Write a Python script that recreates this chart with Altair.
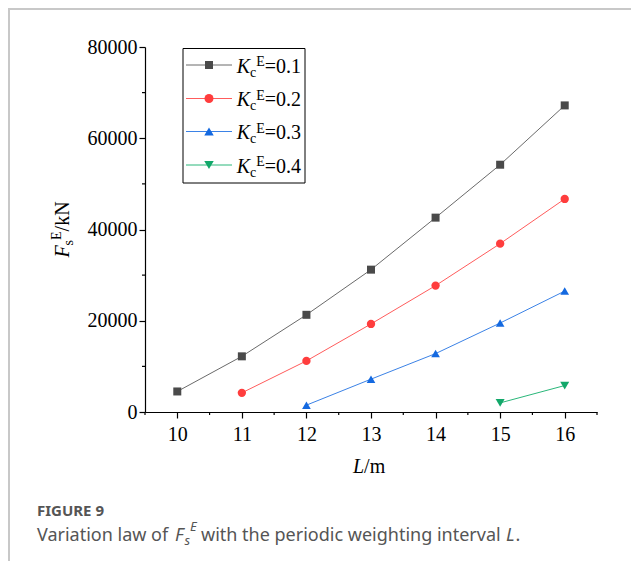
import altair as alt
import pandas as pd

# ---- data ----
series = ["0.1", "0.2", "0.3", "0.4"]
L_01 = [10, 11, 12, 13, 14, 15, 16]
F_01 = [4500, 12200, 21300, 31200, 42600, 54200, 67200]
L_02 = [11, 12, 13, 14, 15, 16]
F_02 = [4200, 11200, 19300, 27700, 36900, 46700]
L_03 = [12, 13, 14, 15, 16]
F_03 = [1500, 7200, 12800, 19500, 26500]
L_04 = [15, 16]
F_04 = [2000, 5800]

x_ticks = [10, 11, 12, 13, 14, 15, 16]
x_minor = [9.5, 10.5, 11.5, 12.5, 13.5, 14.5, 15.5, 16.5]
y_ticks = [0, 20000, 40000, 60000, 80000]
y_minor = [10000, 30000, 50000, 70000]

marker_colors = ["#4a4a4a", "#ff3d3d", "#1469e0", "#12a86a"]
line_colors = ["#6a6a6a", "#ff5c5c", "#3b82e6", "#2ab77a"]
shapes = ["square", "circle", "triangle-up", "triangle-down"]
sizes = [64, 81, 90, 90]

rows = []
for k, Ls, Fs in zip(series, [L_01, L_02, L_03, L_04], [F_01, F_02, F_03, F_04]):
    for l, f in zip(Ls, Fs):
        rows.append({"K": k, "L": l, "F": f})
df = pd.DataFrame(rows)

W, H = 452, 365
SERIF = "Liberation Serif"
SANS = "Noto Sans"

xs = alt.Scale(domain=[9.5, 16.5], nice=False, zero=False)
ys = alt.Scale(domain=[0, 80000], nice=False, zero=False)

xaxis = alt.Axis(values=x_ticks, title=None, grid=False, tickSize=6, tickColor="black",
                 domainColor="black", labelFont=SERIF, labelFontSize=20, labelColor="black",
                 labelPadding=6, format="d", labelFlush=False, labelOverlap=False,
                 domainWidth=1.2, tickWidth=1.2)
yaxis = alt.Axis(values=y_ticks, title=None, grid=False, tickSize=6, tickColor="black",
                 domainColor="black", labelFont=SERIF, labelFontSize=20, labelColor="black",
                 labelPadding=2, format="d", labelFlush=False, labelOverlap=False,
                 domainWidth=1.2, tickWidth=1.2)

lines = alt.Chart(df).mark_line(strokeWidth=1).encode(
    x=alt.X("L:Q", scale=xs, axis=xaxis),
    y=alt.Y("F:Q", scale=ys, axis=yaxis),
    stroke=alt.Stroke("K:N", scale=alt.Scale(domain=series, range=line_colors), legend=None),
)
points = alt.Chart(df).mark_point(filled=True, opacity=1, strokeWidth=0).encode(
    x=alt.X("L:Q", scale=xs, axis=xaxis),
    y=alt.Y("F:Q", scale=ys, axis=yaxis),
    fill=alt.Fill("K:N", scale=alt.Scale(domain=series, range=marker_colors), legend=None),
    shape=alt.Shape("K:N", scale=alt.Scale(domain=series, range=shapes), legend=None),
    size=alt.Size("K:N", scale=alt.Scale(domain=series, range=sizes), legend=None),
)

xminor = alt.Chart(pd.DataFrame({"m": x_minor})).mark_rule(color="black", strokeWidth=1.2).encode(
    x=alt.X("m:Q", scale=xs, axis=xaxis), y=alt.value(H), y2=alt.value(H + 3))
yminor = alt.Chart(pd.DataFrame({"m": y_minor})).mark_rule(color="black", strokeWidth=1.2).encode(
    y=alt.Y("m:Q", scale=ys, axis=yaxis), x=alt.value(0), x2=alt.value(-3))

dummy = pd.DataFrame({"d": [0]})


def txt(s, x, y, size=20, italic=False, angle=0, font=SERIF, color="black", weight="normal"):
    return alt.Chart(dummy).mark_text(
        align="left", baseline="alphabetic", font=font, fontSize=size,
        fontStyle="italic" if italic else "normal", angle=angle, color=color, fontWeight=weight
    ).encode(x=alt.value(x), y=alt.value(y), text=alt.value(s))


layers = [lines, points, xminor, yminor]

# legend box
layers.append(alt.Chart(dummy).mark_rect(fill="transparent", stroke="black", strokeWidth=1).encode(
    x=alt.value(38), x2=alt.value(160), y=alt.value(1.5), y2=alt.value(136)))
row_y = [18, 51.5, 84.5, 118]
for k, ry, mc, lc, sh, sz in zip(series, row_y, marker_colors, line_colors, shapes, sizes):
    layers.append(alt.Chart(dummy).mark_rule(color=lc, strokeWidth=1).encode(
        x=alt.value(41), x2=alt.value(87), y=alt.value(ry)))
    layers.append(alt.Chart(dummy).mark_point(shape=sh, filled=True, fill=mc, size=sz,
                                              opacity=1, strokeWidth=0).encode(
        x=alt.value(64), y=alt.value(ry)))
    layers.append(txt("K", 91.7, ry + 7.5, italic=True))
    layers.append(txt("c", 105, ry + 11.5, size=14))
    layers.append(txt("E", 111.2, ry + 1, size=14))
    layers.append(txt("=" + k, 119.8, ry + 7.5))

# x title
layers.append(txt("L", 208, 426, italic=True))
layers.append(txt("/m", 219.1, 426))
# y title (rotated)
layers.append(txt("F", -76.5, 210.6, italic=True, angle=270))
layers.append(txt("s", -72.5, 198.4, size=14, angle=270))
layers.append(txt("E", -84.5, 193, size=14, angle=270))
layers.append(txt("/kN", -76.5, 184.4, angle=270))

# caption
CAP = "#555555"
layers.append(txt("FIGURE 9", -108, 469, size=15, font=SANS, color=CAP, weight="bold"))
layers.append(txt("Variation law of", -108, 493.5, size=18, font=SANS, color=CAP))
layers.append(txt("F", 30, 493.5, size=18, font=SANS, color=CAP, italic=True))
layers.append(txt("s", 39.5, 497.5, size=13, font=SANS, color=CAP, italic=True))
layers.append(txt("E", 45, 483.5, size=13, font=SANS, color=CAP, italic=True))
layers.append(txt("with the periodic weighting interval", 56, 493.5, size=18, font=SANS, color=CAP))
layers.append(txt("L", 361, 493.5, size=18, font=SANS, color=CAP, italic=True))
layers.append(txt(".", 370.5, 493.5, size=18, font=SANS, color=CAP))

# frame lines
FRAME = "#c8c8c8"
layers.append(alt.Chart(dummy).mark_rule(color=FRAME, strokeWidth=2).encode(
    x=alt.value(-137), x2=alt.value(W + 34), y=alt.value(-38)))
layers.append(alt.Chart(dummy).mark_rule(color=FRAME, strokeWidth=2).encode(
    x=alt.value(-136), y=alt.value(-39), y2=alt.value(H + 149)))

chart = alt.layer(*layers).properties(
    width=W, height=H,
    padding={"left": 137, "top": 39, "right": 34, "bottom": 149},
    autosize=alt.AutoSizeParams(type="none"),
).configure_view(strokeWidth=0)

chart.save("out.html", embed_options={"renderer": "svg", "actions": False})
